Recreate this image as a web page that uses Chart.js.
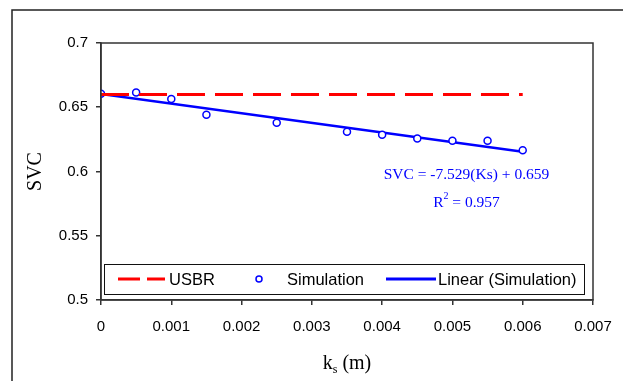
<!DOCTYPE html>
<html><head><meta charset="utf-8">
<script src="https://cdn.jsdelivr.net/npm/chart.js@4"></script>
<style>html,body{margin:0;padding:0;background:#fff}#wrap{width:623px;height:381px}</style>
</head><body><div id="wrap"><canvas id="c" width="623" height="381"></canvas></div>
<script>
const simX = [0, 0.0005, 0.001, 0.0015, 0.0025, 0.0035, 0.004, 0.0045, 0.005, 0.0055, 0.006];
const simY = [0.6605, 0.6615, 0.6565, 0.6442, 0.6379, 0.6309, 0.6286, 0.6257, 0.6239, 0.6239, 0.6166];
const usbrX = [0, 0.006];
const usbrY = [0.66, 0.66];
const trendX = [0, 0.006];
const trendY = [0.6603, 0.6153];
const xTickLabels = ['0', '0.001', '0.002', '0.003', '0.004', '0.005', '0.006', '0.007'];
const yTickLabels = ['0.5', '0.55', '0.6', '0.65', '0.7'];
const seriesNames = ['USBR', 'Simulation', 'Linear (Simulation)'];
const equationText = 'SVC = -7.529(Ks) + 0.659';
const r2Value = '0.957';

const pts = (xs, ys) => xs.map((x, i) => ({x: x, y: ys[i]}));
const SANS = "'Liberation Sans', Arial, sans-serif";
const SERIF = "'Liberation Serif', 'Times New Roman', serif";

const decor = {
  id: 'decor',
  beforeDraw(chart) {
    const ctx = chart.ctx;
    ctx.save();
    ctx.fillStyle = '#fff';
    ctx.fillRect(0, 0, chart.width, chart.height);
    ctx.strokeStyle = '#222';
    ctx.lineWidth = 1.5;
    ctx.strokeRect(12, 10, chart.width + 20, chart.height + 20);
    ctx.restore();
  },
  afterDraw(chart) {
    const ctx = chart.ctx, a = chart.chartArea;
    const xs = chart.scales.x, ys = chart.scales.y;
    ctx.save();
    // plot box
    ctx.strokeStyle = '#333';
    ctx.lineWidth = 1.5;
    ctx.strokeRect(a.left, a.top, a.right - a.left, a.bottom - a.top);
    // equation
    ctx.fillStyle = '#0000ff';
    ctx.font = '15.5px ' + SERIF;
    ctx.textAlign = 'center';
    ctx.textBaseline = 'alphabetic';
    const ex = xs.getPixelForValue(0.00520);
    ctx.fillText(equationText, ex, ys.getPixelForValue(0.5942));
    const ry = ys.getPixelForValue(0.5721);
    const rest = ' = ' + r2Value;
    const wR = ctx.measureText('R').width;
    ctx.font = '10px ' + SERIF;
    const w2 = ctx.measureText('2').width;
    ctx.font = '15.5px ' + SERIF;
    const wRest = ctx.measureText(rest).width;
    let sx = ex - (wR + w2 + wRest) / 2;
    ctx.textAlign = 'left';
    ctx.fillText('R', sx, ry);
    ctx.font = '10px ' + SERIF;
    ctx.fillText('2', sx + wR, ry - 8);
    ctx.font = '15.5px ' + SERIF;
    ctx.fillText(rest, sx + wR + w2, ry);
    // legend
    const lx = 104, ly = 264, lw = 480, lh = 30, cy = ly + lh / 2;
    ctx.fillStyle = '#fff';
    ctx.fillRect(lx, ly, lw, lh);
    ctx.strokeStyle = '#111';
    ctx.lineWidth = 1;
    ctx.strokeRect(lx + 0.5, ly + 0.5, lw, lh);
    ctx.font = '16.5px ' + SANS;
    ctx.fillStyle = '#000';
    ctx.textBaseline = 'middle';
    // USBR
    ctx.strokeStyle = '#ff0000';
    ctx.lineWidth = 3;
    ctx.setLineDash([22, 7]);
    ctx.beginPath(); ctx.moveTo(118, cy); ctx.lineTo(165, cy); ctx.stroke();
    ctx.setLineDash([]);
    ctx.fillText(seriesNames[0], 169, cy + 1);
    // Simulation
    ctx.strokeStyle = '#0000ff';
    ctx.lineWidth = 1.5;
    ctx.beginPath(); ctx.arc(259, cy, 3, 0, Math.PI * 2); ctx.stroke();
    ctx.fillText(seriesNames[1], 287, cy + 1);
    // Linear
    ctx.lineWidth = 3;
    ctx.beginPath(); ctx.moveTo(386, cy); ctx.lineTo(436, cy); ctx.stroke();
    ctx.fillText(seriesNames[2], 438, cy + 1);
    // y title
    ctx.font = '20px ' + SERIF;
    ctx.fillStyle = '#000';
    ctx.textAlign = 'center';
    ctx.save();
    ctx.translate(36, (a.top + a.bottom) / 2);
    ctx.rotate(-Math.PI / 2);
    ctx.fillText('SVC', 0, 0);
    ctx.restore();
    // x title k_s (m)
    ctx.textAlign = 'left';
    ctx.textBaseline = 'alphabetic';
    ctx.font = '20px ' + SERIF;
    const wk = ctx.measureText('k').width;
    const wm = ctx.measureText(' (m)').width;
    ctx.font = '12px ' + SERIF;
    const ws = ctx.measureText('s').width;
    const cx = (a.left + a.right) / 2;
    let tx = cx - (wk + ws + wm) / 2;
    const by = 369;
    ctx.font = '20px ' + SERIF;
    ctx.fillText('k', tx, by);
    ctx.font = '12px ' + SERIF;
    ctx.fillText('s', tx + wk, by + 4);
    ctx.font = '20px ' + SERIF;
    ctx.fillText(' (m)', tx + wk + ws, by);
    ctx.restore();
  }
};

new Chart(document.getElementById('c'), {
  type: 'scatter',
  data: {
    datasets: [
      {label: seriesNames[0], data: pts(usbrX, usbrY), showLine: true, borderColor: '#ff0000', borderWidth: 3, borderDash: [28, 10], pointRadius: 0, order: 1},
      {label: seriesNames[2], data: pts(trendX, trendY), showLine: true, borderColor: '#0000ff', borderWidth: 2.5, pointRadius: 0, order: 3},
      {label: seriesNames[1], data: pts(simX, simY), showLine: false, borderColor: '#0000ff', backgroundColor: '#ffffff', borderWidth: 1.5, pointRadius: 3.5, pointHoverRadius: 3.5, order: 2}
    ]
  },
  options: {
    responsive: false,
    animation: false,
    events: [],
    layout: {padding: {left: 0, top: 43, right: 30, bottom: 0}},
    plugins: {legend: {display: false}, tooltip: {enabled: false}},
    scales: {
      x: {
        type: 'linear', min: 0, max: 0.007,
        afterFit(s) { s.height = 81; s.paddingRight = 0; s.paddingLeft = 0; },
        afterBuildTicks(s) { s.ticks = xTickLabels.map((t, i) => ({value: i * 0.001})); },
        ticks: {callback: (v, i) => xTickLabels[i], color: '#000', font: {family: SANS, size: 15}, padding: 13, maxRotation: 0, autoSkip: false},
        grid: {drawOnChartArea: false, drawTicks: true, tickLength: 5, color: '#333', lineWidth: 1.5},
        border: {display: true, color: '#333', width: 1.5}
      },
      y: {
        type: 'linear', min: 0.5, max: 0.7,
        afterFit(s) { s.width = 101; s.paddingTop = 0; s.paddingBottom = 0; },
        afterBuildTicks(s) { s.ticks = yTickLabels.map((t, i) => ({value: 0.5 + i * 0.05})); },
        ticks: {callback: (v, i) => yTickLabels[i], color: '#000', font: {family: SANS, size: 15}, padding: 8, autoSkip: false},
        grid: {drawOnChartArea: false, drawTicks: true, tickLength: 5, color: '#333', lineWidth: 1.5},
        border: {display: true, color: '#333', width: 1.5}
      }
    }
  },
  plugins: [decor]
});
</script>
</body></html>
